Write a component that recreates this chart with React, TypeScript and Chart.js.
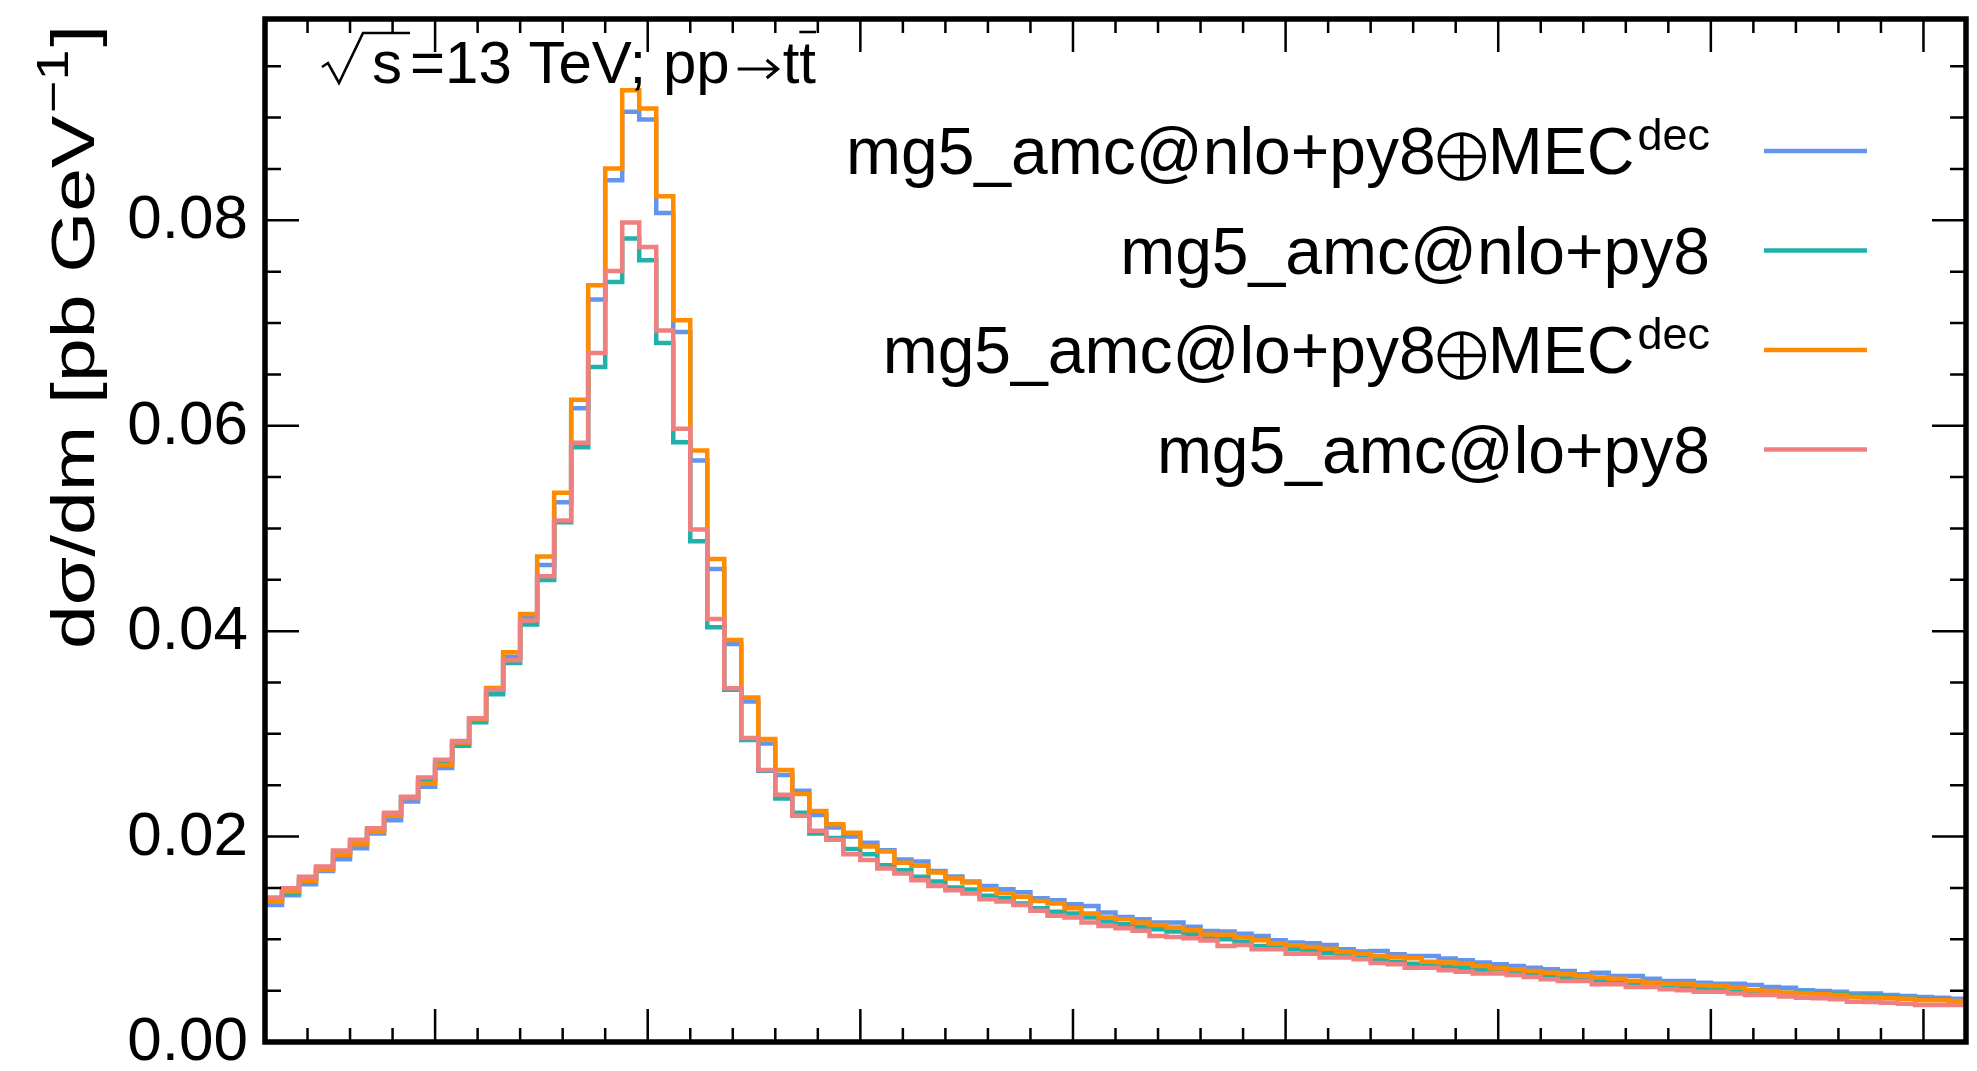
import React, { useEffect, useRef } from "react";
import { Chart, registerables } from "chart.js";

Chart.register(...registerables);

// ---- data ----
const xMin = 130;
const xMax = 330;
const binWidth = 2;

const mecNlo = [
  0.01335, 0.01429, 0.01536, 0.01666, 0.0178, 0.01887, 0.0203, 0.0216, 0.02342, 0.02485,
  0.02667, 0.02901, 0.03128, 0.03414, 0.0375, 0.04135, 0.04645, 0.05256, 0.06171, 0.07228,
  0.0839, 0.09056, 0.08982, 0.08072, 0.06912, 0.05662, 0.04606, 0.03875, 0.03316, 0.02907,
  0.02599, 0.02446, 0.02209, 0.02088, 0.02001, 0.01939, 0.01868, 0.01777, 0.01757, 0.01666,
  0.01611, 0.01562, 0.0152, 0.01488, 0.01459, 0.014, 0.01381, 0.01342, 0.01325, 0.0126,
  0.01218, 0.01196, 0.01163, 0.01163, 0.01121, 0.0108, 0.01075, 0.01055, 0.01033, 0.00991,
  0.00968, 0.00962, 0.00945, 0.00903, 0.0088, 0.00887, 0.00854, 0.00838, 0.00838, 0.00812,
  0.00796, 0.00773, 0.00757, 0.00741, 0.00724, 0.00708, 0.00692, 0.0066, 0.00675, 0.00643,
  0.00643, 0.00617, 0.00594, 0.00594, 0.00578, 0.00568, 0.00568, 0.00555, 0.00536, 0.00529,
  0.00504, 0.00497, 0.0049, 0.00471, 0.00471, 0.00458, 0.00448, 0.00439, 0.00432, 0.00422,
];

const nlo = [
  0.0139, 0.01449, 0.01585, 0.01692, 0.01845, 0.01952, 0.02073, 0.02219, 0.02381, 0.0255,
  0.02722, 0.02884, 0.03112, 0.03385, 0.0369, 0.04064, 0.04499, 0.0506, 0.05791, 0.06571,
  0.07399, 0.07822, 0.0761, 0.06805, 0.0584, 0.04875, 0.04037, 0.0343, 0.0294, 0.0264,
  0.02371, 0.02232, 0.0203, 0.01985, 0.01878, 0.01829, 0.01722, 0.01673, 0.01608, 0.01562,
  0.01504, 0.01484, 0.01423, 0.014, 0.01348, 0.01303, 0.01267, 0.0125, 0.01211, 0.01173,
  0.01147, 0.01121, 0.01098, 0.01075, 0.0105, 0.0102, 0.01001, 0.00977, 0.00935, 0.00926,
  0.00903, 0.00893, 0.0087, 0.00854, 0.00838, 0.00796, 0.00782, 0.00763, 0.00757, 0.00734,
  0.00724, 0.00699, 0.00708, 0.00685, 0.00666, 0.00653, 0.00636, 0.00627, 0.00594, 0.00601,
  0.00578, 0.00562, 0.00546, 0.00546, 0.00529, 0.0052, 0.00507, 0.00497, 0.0049, 0.0048,
  0.0048, 0.00471, 0.00465, 0.00448, 0.00455, 0.00439, 0.00426, 0.00416, 0.00413, 0.00393,
];

const mecLo = [
  0.01367, 0.01465, 0.01569, 0.01676, 0.01822, 0.01926, 0.02046, 0.02202, 0.02375, 0.02517,
  0.02696, 0.02917, 0.03144, 0.03446, 0.03794, 0.04168, 0.04726, 0.05347, 0.06253, 0.07367,
  0.08504, 0.09267, 0.09089, 0.08234, 0.07026, 0.05759, 0.04703, 0.03914, 0.03355, 0.0295,
  0.02648, 0.02414, 0.02248, 0.02121, 0.02037, 0.01903, 0.01855, 0.01744, 0.01715, 0.0165,
  0.01591, 0.01552, 0.01484, 0.01449, 0.01413, 0.01374, 0.01348, 0.01303, 0.0125, 0.01211,
  0.01196, 0.01163, 0.0114, 0.01114, 0.01088, 0.01047, 0.01043, 0.01017, 0.00991, 0.00958,
  0.00942, 0.00926, 0.00909, 0.00877, 0.0086, 0.00838, 0.00828, 0.00816, 0.00782, 0.00773,
  0.00763, 0.00741, 0.00718, 0.00708, 0.00692, 0.00675, 0.0066, 0.00643, 0.00627, 0.00617,
  0.00594, 0.00578, 0.00568, 0.00562, 0.00552, 0.00546, 0.00529, 0.00504, 0.00497, 0.0048,
  0.00471, 0.00465, 0.00458, 0.00439, 0.00432, 0.00426, 0.00422, 0.00406, 0.00406, 0.004,
];

const lo = [
  0.01406, 0.01498, 0.01608, 0.01708, 0.01864, 0.01968, 0.02082, 0.02232, 0.02387, 0.02576,
  0.02748, 0.0293, 0.03151, 0.03433, 0.03716, 0.04103, 0.04534, 0.05077, 0.05834, 0.06709,
  0.07506, 0.07978, 0.0774, 0.06928, 0.0597, 0.04989, 0.04119, 0.03443, 0.02959, 0.02648,
  0.02407, 0.02202, 0.02056, 0.01968, 0.01829, 0.01771, 0.01689, 0.0164, 0.01576, 0.0152,
  0.01478, 0.01445, 0.0139, 0.01367, 0.01335, 0.01277, 0.01228, 0.01211, 0.01163, 0.0113,
  0.01108, 0.01082, 0.01033, 0.01023, 0.01011, 0.00988, 0.00935, 0.00945, 0.00903, 0.00903,
  0.0086, 0.0086, 0.00822, 0.00822, 0.00806, 0.0077, 0.00757, 0.00724, 0.00724, 0.00699,
  0.00685, 0.00666, 0.00666, 0.00653, 0.00633, 0.00611, 0.00594, 0.00594, 0.00562, 0.00562,
  0.00536, 0.00536, 0.00514, 0.00504, 0.0049, 0.0049, 0.00471, 0.00458, 0.00458, 0.00442,
  0.00432, 0.00426, 0.00416, 0.00393, 0.0039, 0.00383, 0.00373, 0.00361, 0.00361, 0.00361,
];

// legend label: prefix, whether a "⊕MEC^dec" suffix follows
const seriesLabels = [
  { main: "mg5_amc@nlo+py8", mec: true },
  { main: "mg5_amc@nlo+py8", mec: false },
  { main: "mg5_amc@lo+py8", mec: true },
  { main: "mg5_amc@lo+py8", mec: false },
];
const seriesColors = ["#6495ED", "#20B2AA", "#FF8C00", "#F08080"];
const seriesValues = [mecNlo, nlo, mecLo, lo];

const yMax = 0.0996;
const yTickValues = [0, 0.02, 0.04, 0.06, 0.08];
const yTickLabels = ["0.00", "0.02", "0.04", "0.06", "0.08"];
const yMinorStep = 0.005;
const xMajorStep = 25;
const xMinorStep = 5;

const FONT = "'Liberation Sans', Arial, 'DejaVu Sans', sans-serif";

function stepPoints(values: number[]) {
  const pts = values.map((v, i) => ({ x: xMin + i * binWidth, y: v }));
  pts.push({ x: xMin + values.length * binWidth, y: values[values.length - 1] });
  return pts;
}

function oplus(ctx: CanvasRenderingContext2D, cx: number, cy: number, r: number) {
  ctx.save();
  ctx.strokeStyle = "#000";
  ctx.lineWidth = 3.5;
  ctx.beginPath();
  ctx.arc(cx, cy, r, 0, Math.PI * 2);
  ctx.moveTo(cx - r, cy);
  ctx.lineTo(cx + r, cy);
  ctx.moveTo(cx, cy - r);
  ctx.lineTo(cx, cy + r);
  ctx.stroke();
  ctx.restore();
}

const decorPlugin = {
  id: "decor",
  afterDraw(chart: any) {
    const ctx = chart.ctx as CanvasRenderingContext2D;
    const { left, right, top, bottom } = chart.chartArea;
    const xs = chart.scales.x;
    const ys = chart.scales.y;
    ctx.save();
    ctx.strokeStyle = "#000";
    ctx.fillStyle = "#000";

    // ticks
    ctx.lineWidth = 2.5;
    ctx.beginPath();
    for (let v = xMin; v <= xMax + 1e-9; v += xMinorStep) {
      const major = Math.abs(v % xMajorStep) < 1e-9;
      const len = major ? 33 : 14;
      const px = xs.getPixelForValue(v);
      ctx.moveTo(px, bottom);
      ctx.lineTo(px, bottom - len);
      ctx.moveTo(px, top);
      ctx.lineTo(px, top + len);
    }
    for (let k = 0; k * yMinorStep <= yMax + 1e-9; k++) {
      const v = k * yMinorStep;
      const major = k % 4 === 0;
      const len = major ? 34 : 16;
      const py = ys.getPixelForValue(v);
      ctx.moveTo(left, py);
      ctx.lineTo(left + len, py);
      ctx.moveTo(right, py);
      ctx.lineTo(right - len, py);
    }
    ctx.stroke();

    // frame
    ctx.lineWidth = 5.5;
    ctx.strokeRect(left, top, right - left, bottom - top);

    // y tick labels
    ctx.font = `62px ${FONT}`;
    ctx.textAlign = "right";
    ctx.textBaseline = "middle";
    yTickValues.forEach((v, i) => {
      ctx.fillText(yTickLabels[i], left - 17, ys.getPixelForValue(v) + 1);
    });

    // y axis title (rotated, aligned to the top)
    ctx.save();
    const titleLen = 624;
    ctx.translate(94, top + 6 + titleLen);
    ctx.rotate(-Math.PI / 2);
    ctx.textAlign = "left";
    ctx.textBaseline = "alphabetic";
    const mainFont = `62px ${FONT}`;
    const supFont = `44px ${FONT}`;
    ctx.font = mainFont;
    const p1 = "dσ/dm [pb GeV";
    const w1 = ctx.measureText(p1).width;
    ctx.font = supFont;
    const p2 = "−1";
    const w2 = ctx.measureText(p2).width;
    ctx.font = mainFont;
    const p3 = "]";
    const w3 = ctx.measureText(p3).width;
    const natural = w1 + w2 + w3 + 4;
    const sx = titleLen / natural;
    ctx.scale(sx, 1);
    ctx.font = mainFont;
    ctx.fillText(p1, 0, 0);
    ctx.font = supFont;
    ctx.fillText(p2, w1 + 2, -26);
    ctx.font = mainFont;
    ctx.fillText(p3, w1 + w2 + 4, 0);
    ctx.restore();

    // annotation: sqrt(s)=13 TeV; pp -> t tbar
    ctx.lineWidth = 2.6;
    ctx.beginPath();
    ctx.moveTo(322, 67);
    ctx.lineTo(328, 63);
    ctx.lineTo(339, 83);
    ctx.lineTo(363, 33);
    ctx.lineTo(410, 33);
    ctx.stroke();
    ctx.font = `60px ${FONT}`;
    ctx.textAlign = "left";
    ctx.textBaseline = "alphabetic";
    ctx.fillText("s", 372, 83);
    const partA = "=13 TeV; pp";
    ctx.fillText(partA, 410, 83);
    const wA = ctx.measureText(partA).width;
    // arrow
    const ax0 = 410 + wA + 8;
    const ax1 = ax0 + 40;
    ctx.lineWidth = 3;
    ctx.beginPath();
    ctx.moveTo(ax0, 69);
    ctx.lineTo(ax1, 69);
    ctx.moveTo(ax1 - 11, 60);
    ctx.lineTo(ax1, 69);
    ctx.lineTo(ax1 - 11, 78);
    ctx.stroke();
    const tx = ax1 + 5;
    ctx.fillText("tt", tx, 83);
    const wT = ctx.measureText("t").width;
    ctx.lineWidth = 2.6;
    ctx.beginPath();
    ctx.moveTo(tx + wT, 32);
    ctx.lineTo(tx + 2 * wT, 32);
    ctx.stroke();

    // legend
    const legendRight = 1710;
    const rowY0 = 151;
    const rowStep = 99.5;
    seriesLabels.forEach((lab, i) => {
      const y = rowY0 + i * rowStep;
      ctx.strokeStyle = seriesColors[i];
      ctx.lineWidth = 4.5;
      ctx.beginPath();
      ctx.moveTo(1764, y);
      ctx.lineTo(1867, y);
      ctx.stroke();
      ctx.fillStyle = "#000";
      ctx.textAlign = "right";
      ctx.textBaseline = "alphabetic";
      let xr = legendRight;
      if (lab.mec) {
        ctx.font = `45px ${FONT}`;
        ctx.fillText("dec", xr, y - 1);
        xr -= ctx.measureText("dec").width + 3;
        ctx.font = `66px ${FONT}`;
        ctx.fillText("MEC", xr, y + 23);
        xr -= ctx.measureText("MEC").width;
        const cx = xr - 26;
        oplus(ctx, cx, y + 5.5, 22.5);
        xr = cx - 26;
      }
      ctx.font = `66px ${FONT}`;
      ctx.fillText(lab.main, xr, y + 23);
    });
    ctx.restore();
  },
};

export default function App() {
  const ref = useRef<HTMLCanvasElement | null>(null);
  useEffect(() => {
    if (!ref.current) return;
    const order = [3, 2, 1, 0];
    const chart = new Chart(ref.current, {
      type: "line",
      data: {
        datasets: seriesValues.map((vals, i) => ({
          label: seriesLabels[i].main + (seriesLabels[i].mec ? "⊕MECdec" : ""),
          data: stepPoints(vals),
          borderColor: seriesColors[i],
          backgroundColor: seriesColors[i],
          borderWidth: 4.5,
          stepped: true,
          pointRadius: 0,
          fill: false,
          tension: 0,
          borderJoinStyle: "miter" as const,
          order: order[i],
        })),
      },
      options: {
        responsive: false,
        devicePixelRatio: 1,
        animation: false,
        events: [],
        layout: { padding: { left: 265, top: 19, right: 11, bottom: 29 } },
        plugins: { legend: { display: false }, tooltip: { enabled: false } },
        scales: {
          x: { type: "linear", min: xMin, max: xMax, display: false },
          y: { type: "linear", min: 0, max: yMax, display: false },
        },
      },
      plugins: [decorPlugin],
    });
    return () => chart.destroy();
  }, []);
  return (
    <div style={{ position: "fixed", left: 0, top: 0, width: 1977, height: 1071, background: "#fff" }}>
      <canvas ref={ref} width={1977} height={1071} style={{ width: 1977, height: 1071, display: "block" }} />
    </div>
  );
}
